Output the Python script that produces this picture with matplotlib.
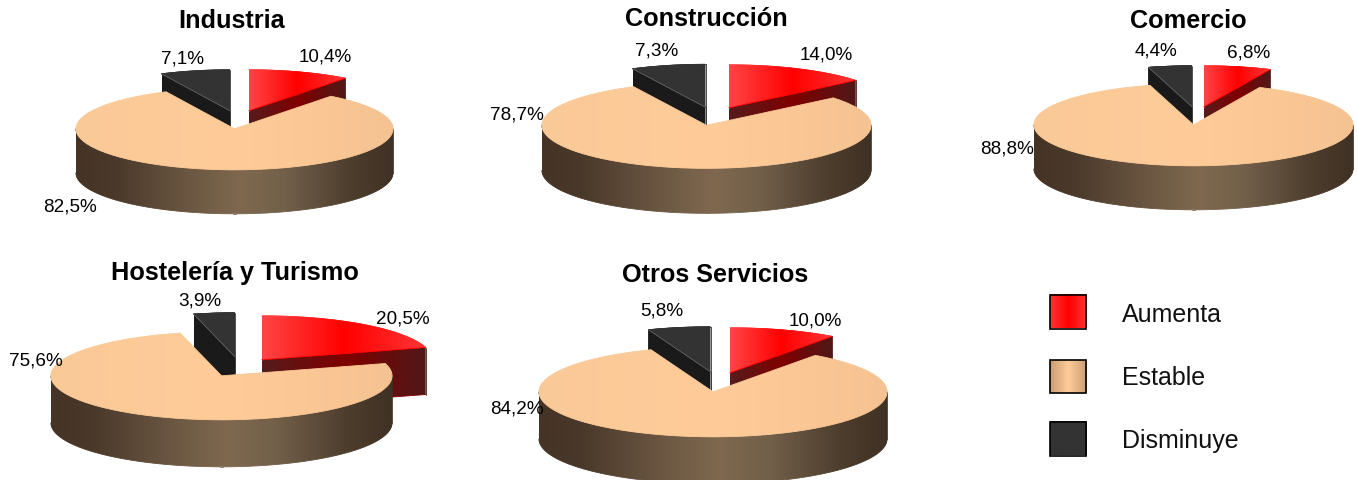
import numpy as np
import matplotlib
matplotlib.use("Agg")
import matplotlib.pyplot as plt
from matplotlib.collections import LineCollection
from matplotlib.colors import LinearSegmentedColormap
from matplotlib.path import Path
from matplotlib.patches import Rectangle

# ---- data ----
sectors = ["Industria", "Construcción", "Comercio", "Hostelería y Turismo", "Otros Servicios"]
aumenta = [10.4, 14.0, 6.8, 20.5, 10.0]
estable = [82.5, 78.7, 88.8, 75.6, 84.2]
disminuye = [7.1, 7.3, 4.4, 3.9, 5.8]
legend_labels = ["Aumenta", "Estable", "Disminuye"]

# ---- layout (pixels in the 1357x481 picture) ----
W, H = 1357, 481
centers = [(234.5, 129.8), (706.5, 126.3), (1193.5, 125.8), (221.5, 376.8), (713, 392.8)]
radii_x = [158.5, 164.5, 159.5, 170.5, 174]
radii_y = [41, 43, 41, 44, 45]
depths = [44, 45, 44, 47, 47]
red_apex = [(249, 111.8), (729, 108.8), (1204, 107.8), (262, 360.8), (730, 373.8)]
dark_apex = [(230, 111.8), (705.5, 108.3), (1192, 107.8), (235, 357.8), (710.5, 372.8)]
title_pos = [(232, 21.5), (706, 19.5), (1188.5, 21.5), (235, 273.5), (715, 275.5)]
red_label = [(325, 56.5), (826, 55.5), (1249, 53.5), (403, 318.5), (815, 320.5)]
mid_label = [(70, 207.5), (517, 114.5), (1007, 148.5), (36, 361.5), (517, 409.5)]
dark_label = [(182, 59.5), (657, 50.5), (1156, 50.5), (200, 300.5), (662, 311.5)]
swatch_y = [(296, 329.5), (361, 394), (423, 456.5)]
swatch_x = (1049.5, 1086)
legend_text_x = 1122
legend_text_y = [315.5, 378.5, 441.5]

plt.rcParams["font.family"] = ["Liberation Sans", "DejaVu Sans"]

cm = LinearSegmentedColormap.from_list
top_red = cm("tr", ["#ff4545", "#ff0000", "#ff3535"])
wall_red = cm("wr", ["#551c1c", "#800000", "#501818"])
top_peach = cm("tp", ["#f9c997", "#ffcc99", "#f5c291"])
wall_peach = cm("wp", [(0, "#453425"), (0.12, "#4a382a"), (0.38, "#6e5a44"), (0.52, "#80684f"),
                       (0.66, "#72604a"), (0.87, "#4d3d2d"), (1, "#3f3124")])
top_dark = cm("td", ["#333333", "#333333"])
wall_dark = cm("wd", ["#1a1a1a", "#1a1a1a"])
grad = np.linspace(0, 1, 256)[None, :]


def fill(ax, pts, cmap, xr, z):
    """Gradient filled polygon with a soft outline in the local colour."""
    pts = np.asarray(pts)
    closed = np.vstack([pts, pts[:1]])
    im = ax.imshow(grad, cmap=cmap, vmin=0, vmax=1, aspect="auto", interpolation="bilinear",
                   extent=(xr[0], xr[1], -9, 9), zorder=z)
    im.set_clip_path(Path(closed), ax.transData)
    segs = np.stack([closed[:-1], closed[1:]], axis=1)
    t = np.clip((segs[:, :, 0].mean(axis=1) - xr[0]) / (xr[1] - xr[0]), 0, 1)
    ax.add_collection(LineCollection(segs, colors=cmap(t), linewidths=0.6, zorder=z + 0.1,
                                     capstyle="round"), autolim=False)


def slice3d(ax, share_start, share_end, apex, depth, top_cmap, wall_cmap, xr, z, ridge=False):
    a0, a1 = np.radians(share_start * 3.6), np.radians(share_end * 3.6)
    th = np.linspace(a0, a1, 240)
    ax0, ay0 = apex
    arc = np.c_[ax0 + np.sin(th), ay0 + np.cos(th)]
    down = np.array([0, -depth])
    ap = np.array(apex)
    # radial wall at the end of the slice, when it faces the viewer
    if a1 < np.pi:
        fill(ax, [ap, arc[-1], arc[-1] + down, ap + down], wall_cmap, xr, z)
    if a0 > np.pi:
        fill(ax, [ap, arc[0], arc[0] + down, ap + down], wall_cmap, xr, z)
    # outer wall, front half only
    lo, hi = max(a0, np.pi / 2), min(a1, 3 * np.pi / 2)
    if hi > lo:
        t = np.linspace(lo, hi, 240)
        rim = np.c_[ax0 + np.sin(t), ay0 + np.cos(t)]
        fill(ax, np.vstack([rim, (rim + down)[::-1]]), wall_cmap, xr, z + 1)
    fill(ax, np.vstack([ap, arc]), top_cmap, xr, z + 2)
    if ridge:
        ax.plot([ap[0], arc[0, 0]], [ap[1], arc[0, 1]], color="#6a6a6a", lw=0.5, zorder=z + 3)


fig = plt.figure(figsize=(W / 100, H / 100), dpi=100, facecolor="white")

for i in range(len(sectors)):
    cx, cy = centers[i]
    rx, ry = radii_x[i], radii_y[i]
    xspan, yspan = 1.7, 4.0
    ax = fig.add_axes([(cx - xspan * rx) / W, 1 - (cy + yspan * ry) / H,
                       2 * xspan * rx / W, 2 * yspan * ry / H])
    ax.axis("off")
    depth = depths[i] / ry
    to_unit = lambda p: ((p[0] - cx) / rx, (cy - p[1]) / ry)
    up = aumenta[i]
    same = estable[i]
    ra = to_unit(red_apex[i])
    da = to_unit(dark_apex[i])
    # slices in drawing order: the two pulled out behind, the big one in front
    s0, s1 = 0, up
    th1 = np.radians(up * 3.6)
    xr_red = (ra[0], ra[0] + np.sin(th1))
    slice3d(ax, s0, s1, ra, depth, top_red, wall_red, xr_red, 2)
    s0, s1 = up + same, 100
    th0 = np.radians((up + same) * 3.6)
    xr_dark = (da[0] + np.sin(th0), da[0])
    slice3d(ax, s0, s1, da, depth, top_dark, wall_dark, xr_dark, 6, ridge=True)
    slice3d(ax, up, up + same, (0, 0), depth, top_peach, wall_peach, (-1, 1), 12)
    ax.set_xlim(-xspan, xspan)
    ax.set_ylim(-yspan, yspan)

    fig.text(title_pos[i][0] / W, 1 - title_pos[i][1] / H, sectors[i], ha="center", va="center",
             fontsize=18.2, fontweight="bold", color="black")
    for val, pos in ((up, red_label[i]), (same, mid_label[i]), (disminuye[i], dark_label[i])):
        fig.text(pos[0] / W, 1 - pos[1] / H, f"{val:.1f}%".replace(".", ","), ha="center",
                 va="center", fontsize=13.6, color="black")

# legend
lax = fig.add_axes([0, 0, 1, 1])
lax.axis("off")
swatch_maps = [cm("s1", ["#ff3535", "#ff0000", "#ff3535"]),
               cm("s2", ["#c99c72", "#ffcc99", "#c99c72"]),
               top_dark]
for (y0, y1), m, lab, ty in zip(swatch_y, swatch_maps, legend_labels, legend_text_y):
    lax.imshow(grad, cmap=m, vmin=0, vmax=1, aspect="auto", extent=(swatch_x[0], swatch_x[1], y1, y0))
    lax.add_patch(Rectangle((swatch_x[0], y0), swatch_x[1] - swatch_x[0], y1 - y0, fill=False,
                            edgecolor="black", lw=1.2))
    fig.text(legend_text_x / W, 1 - ty / H, lab, ha="left", va="center", fontsize=18, color="#111111")
lax.set_xlim(0, W)
lax.set_ylim(H, 0)

fig.savefig("out.png", dpi=100, facecolor="white")
